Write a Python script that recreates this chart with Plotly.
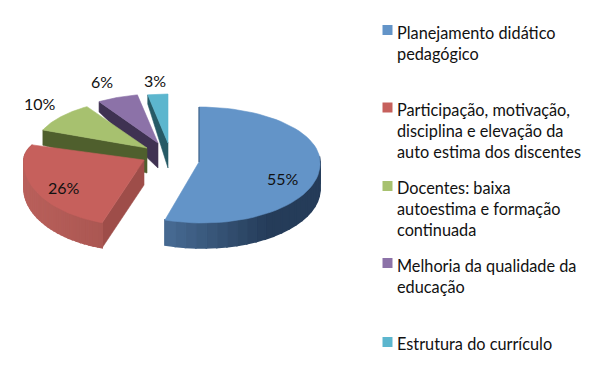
import math
import plotly.graph_objects as go

categories = ["Planejamento didático pedagógico",
              "Participação, motivação, disciplina e elevação da auto estima dos discentes",
              "Docentes: baixa autoestima e formação continuada",
              "Melhoria da qualidade da educação",
              "Estrutura do currículo"]
values = [55, 26, 10, 6, 3]
legend_lines = [["Planejamento didático", "pedagógico"],
                ["Participação, motivação,", "disciplina e elevação da", "auto estima dos discentes"],
                ["Docentes: baixa", "autoestima e formação", "continuada"],
                ["Melhoria da qualidade da", "educação"],
                ["Estrutura do currículo"]]

top_colors = ["#6394c8", "#c6605c", "#a7c16f", "#8c72a8", "#5cb6ce"]
wall_colors = ["#3a5a80", "#9e4d49", "#4f5f2d", "#3f3252", "#265a66"]
rim_light = ["#4a6f98", "#b9605b", "#4f5f2d", "#3f3252", "#265a66"]
rim_dark = ["#253c59", "#8f4541", "#4f5f2d", "#3f3252", "#265a66"]
# per-slice projection: apex x, apex y, rx, ry back, ry front, skew
geom = [(199, 162, 121, 55, 61, -3.5),
        (144, 160, 120, 41, 66, 5),
        (147, 148, 112, 49, 60, 0),
        (158, 143, 110, 49, 60, 0),
        (168, 143, 108, 49, 60, 0)]
label_pos = [(283, 178), (64, 187), (40, 103), (102, 81), (155, 80)]
legend_y = [32, 109, 187, 265, 343]
legend_marker_y = [30, 107.5, 186, 263, 342]
LINE_PITCH = 21
FONT = "Lato"
LEGEND_SIZE = 16.3
PAGE_MARGIN = 8  # the browser's default body margin

fig = go.Figure()


def point(g, ang):
    ax, ay, rx, rb, rf, sk = g
    u, v = math.sin(ang), math.cos(ang)
    ry = rb if v > 0 else rf
    return ax + rx * u + sk * min(v, 0), ay - ry * v, v


def depth(v):
    return 25 - 16 * math.sqrt(max(v, 0))


def poly(xs, ys, color, width=0.6):
    fig.add_trace(go.Scatter(x=xs + xs[:1], y=ys + ys[:1], mode="lines", fill="toself",
                             fillcolor=color, line=dict(color=color, width=width),
                             hoverinfo="skip", showlegend=False))


def mix(c1, c2, t):
    a = [int(c1[i:i + 2], 16) for i in (1, 3, 5)]
    b = [int(c2[i:i + 2], 16) for i in (1, 3, 5)]
    return "#%02x%02x%02x" % tuple(round(p + (q - p) * t) for p, q in zip(a, b))


total = sum(values)
spans = []
cum = 0
for val in values:
    spans.append((cum / total * 2 * math.pi, (cum + val) / total * 2 * math.pi))
    cum += val

for i in [4, 3, 2, 1, 0]:
    g = geom[i]
    a0, a1 = spans[i]
    ax, ay = g[0], g[1]
    # the cut wall that faces the viewer
    if i >= 1:
        ex, ey, ev = point(g, a0)
        poly([ex, ax, ax, ex], [ey, ay, ay + depth(0), ey + depth(ev)], wall_colors[i])
    # rim wall segments, only where the rim faces the viewer
    if i <= 1:
        n = 40
        for k in range(n):
            t0 = a0 + (a1 - a0) * k / n
            t1 = a0 + (a1 - a0) * (k + 1) / n
            x0, y0, v0 = point(g, t0)
            x1, y1, v1 = point(g, t1)
            if i == 0 and v0 > 0.02 and v1 > 0.02:
                continue
            if i == 1 and v0 > 0.55:
                continue
            frac = (x0 - (ax - g[2])) / (2 * g[2])
            t = frac if i == 1 else min(1, max(0, (frac - 0.35) / 0.45))
            poly([x0, x1, x1, x0], [y0, y1, y1 + depth(v1), y0 + depth(v0)],
                 mix(rim_light[i], rim_dark[i], t), width=1.6)
    # top face
    xs, ys = [ax], [ay]
    for k in range(61):
        x, y, _ = point(g, a0 + (a1 - a0) * k / 60)
        xs.append(x)
        ys.append(y)
    poly(xs, ys, top_colors[i])
    if i == 0:
        x, y, _ = point(g, a0)
        fig.add_trace(go.Scatter(x=[x, ax], y=[y, ay], mode="lines",
                                 line=dict(color=wall_colors[0], width=1),
                                 hoverinfo="skip", showlegend=False))

annotations = []
for val, (x, y) in zip(values, label_pos):
    annotations.append(dict(x=x, y=y, text=f"{val}%", showarrow=False, xref="x", yref="y",
                            font=dict(family=FONT, size=16, color="#111111")))
for cat, lines, y0, my, col in zip(categories, legend_lines, legend_y, legend_marker_y, top_colors):
    fig.add_trace(go.Scatter(x=[387.5], y=[my], mode="markers", name=cat,
                             marker=dict(symbol="square", size=10, color=col),
                             hoverinfo="skip", showlegend=False))
    for j, line in enumerate(lines):
        annotations.append(dict(x=394.5, y=y0 + j * LINE_PITCH, text=line, showarrow=False,
                                xref="x", yref="y", xanchor="left",
                                font=dict(family=FONT, size=LEGEND_SIZE, color="#111111")))

fig.update_layout(width=600 - PAGE_MARGIN, height=375 - PAGE_MARGIN,
                  margin=dict(l=0, r=0, t=0, b=0),
                  paper_bgcolor="white", plot_bgcolor="white", showlegend=False,
                  annotations=annotations,
                  xaxis=dict(range=[PAGE_MARGIN, 600], visible=False, fixedrange=True),
                  yaxis=dict(range=[375, PAGE_MARGIN], visible=False, fixedrange=True))
fig.write_html("out.html", config=dict(displayModeBar=False))
